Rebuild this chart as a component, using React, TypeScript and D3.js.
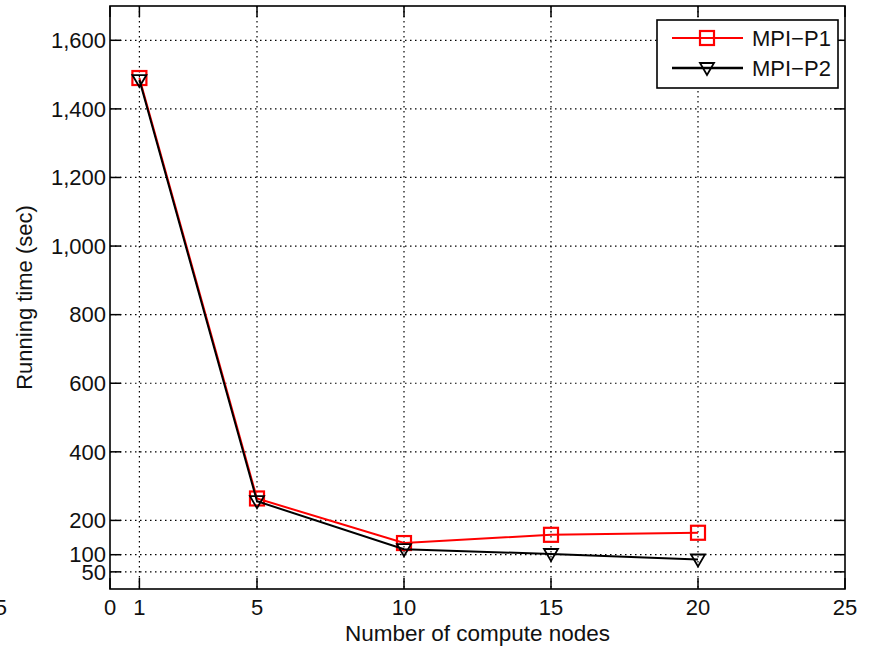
import React from 'react';
import * as d3 from 'd3';

// compute nodes vs running time (sec)
const nodes = [1, 5, 10, 15, 20];
const mpiP1 = [1490, 264, 134, 158, 164];
const mpiP2 = [1484, 256, 116, 102, 86];
const xTicks = [0, 1, 5, 10, 15, 20, 25];
const yTicks = [50, 100, 200, 400, 600, 800, 1000, 1200, 1400, 1600];
const seriesNames = ['MPI\u2212P1', 'MPI\u2212P2'];

const W = 871;
const H = 647;
const left = 110, right = 845, top = 6, bottom = 589;
const font = '"Liberation Sans", Arial, sans-serif';
const tickLen = 11;
const fs = 22;

const x = d3.scaleLinear().domain([0, 25]).range([left, right]);
const y = d3.scaleLinear().domain([0, 1700]).range([bottom, top]);

const line = d3.line<[number, number]>()
  .x(d => x(d[0]))
  .y(d => y(d[1]));

const Square = ({ cx, cy }: { cx: number; cy: number }) => (
  <rect x={cx - 7} y={cy - 7} width={14} height={14} fill="none" stroke="#ff0000" strokeWidth={2.2} />
);

const Tri = ({ cx, cy }: { cx: number; cy: number }) => (
  <path d={`M${cx - 7},${cy - 5}L${cx + 7},${cy - 5}L${cx},${cy + 7}Z`} fill="none" stroke="#000" strokeWidth={1.8} />
);

export default function App() {
  const p1 = nodes.map((n, i) => [n, mpiP1[i]] as [number, number]);
  const p2 = nodes.map((n, i) => [n, mpiP2[i]] as [number, number]);
  const fmt = d3.format(',');

  return (
    <svg width={W} height={H} style={{ position: 'absolute', left: 0, top: 0, background: '#fff' }}
      fontFamily={font}>
      <rect x={0} y={0} width={W} height={H} fill="#fff" />

      {/* grid */}
      {xTicks.filter(t => t > 0 && t < 25).map(t => (
        <line key={'gx' + t} x1={x(t)} x2={x(t)} y1={top} y2={bottom}
          stroke="#000" strokeWidth={1.2} strokeDasharray="1.5,3.5" />
      ))}
      {yTicks.map(t => (
        <line key={'gy' + t} x1={left} x2={right} y1={y(t)} y2={y(t)}
          stroke="#000" strokeWidth={1.2} strokeDasharray="1.5,3.5" />
      ))}

      {/* ticks */}
      {xTicks.map(t => (
        <g key={'tx' + t}>
          <line x1={x(t)} x2={x(t)} y1={bottom} y2={bottom - tickLen} stroke="#000" strokeWidth={1.5} />
          <line x1={x(t)} x2={x(t)} y1={top} y2={top + tickLen} stroke="#000" strokeWidth={1.5} />
          <text x={x(t)} y={615} textAnchor="middle" fontSize={fs} fill="#111">{t}</text>
        </g>
      ))}
      <text x={7} y={615} textAnchor="end" fontSize={fs} fill="#111">5</text>
      {yTicks.map(t => (
        <g key={'ty' + t}>
          <line x1={left} x2={left + tickLen} y1={y(t)} y2={y(t)} stroke="#000" strokeWidth={1.5} />
          <line x1={right} x2={right - tickLen} y1={y(t)} y2={y(t)} stroke="#000" strokeWidth={1.5} />
          <text x={left - 4} y={y(t)} dy="0.35em" textAnchor="end" fontSize={fs} fill="#111">{fmt(t)}</text>
        </g>
      ))}

      {/* frame */}
      <rect x={left} y={top} width={right - left} height={bottom - top} fill="none" stroke="#000" strokeWidth={1.6} />

      {/* series */}
      <path d={line(p1) || ''} fill="none" stroke="#ff0000" strokeWidth={2} />
      {p1.map(d => <Square key={'s' + d[0]} cx={x(d[0])} cy={y(d[1])} />)}
      <path d={line(p2) || ''} fill="none" stroke="#000" strokeWidth={2} />
      {p2.map(d => <Tri key={'t' + d[0]} cx={x(d[0])} cy={y(d[1])} />)}

      {/* axis titles */}
      <text x={(left + right) / 2} y={641} textAnchor="middle" fontSize={22.5} fill="#111">Number of compute nodes</text>
      <text transform={`translate(32,${(top + bottom) / 2}) rotate(-90)`} textAnchor="middle" fontSize={22} fill="#111">Running time (sec)</text>

      {/* legend */}
      <rect x={657} y={20} width={181} height={68} fill="#fff" stroke="#000" strokeWidth={1.6} />
      <line x1={672} x2={743} y1={38} y2={38} stroke="#ff0000" strokeWidth={2.2} />
      <Square cx={707} cy={38} />
      <text x={752} y={38} dy="0.35em" fontSize={fs} fill="#111">{seriesNames[0]}</text>
      <line x1={672} x2={743} y1={68} y2={68} stroke="#000" strokeWidth={2.5} />
      <Tri cx={707} cy={68} />
      <text x={752} y={68} dy="0.35em" fontSize={fs} fill="#111">{seriesNames[1]}</text>
    </svg>
  );
}
